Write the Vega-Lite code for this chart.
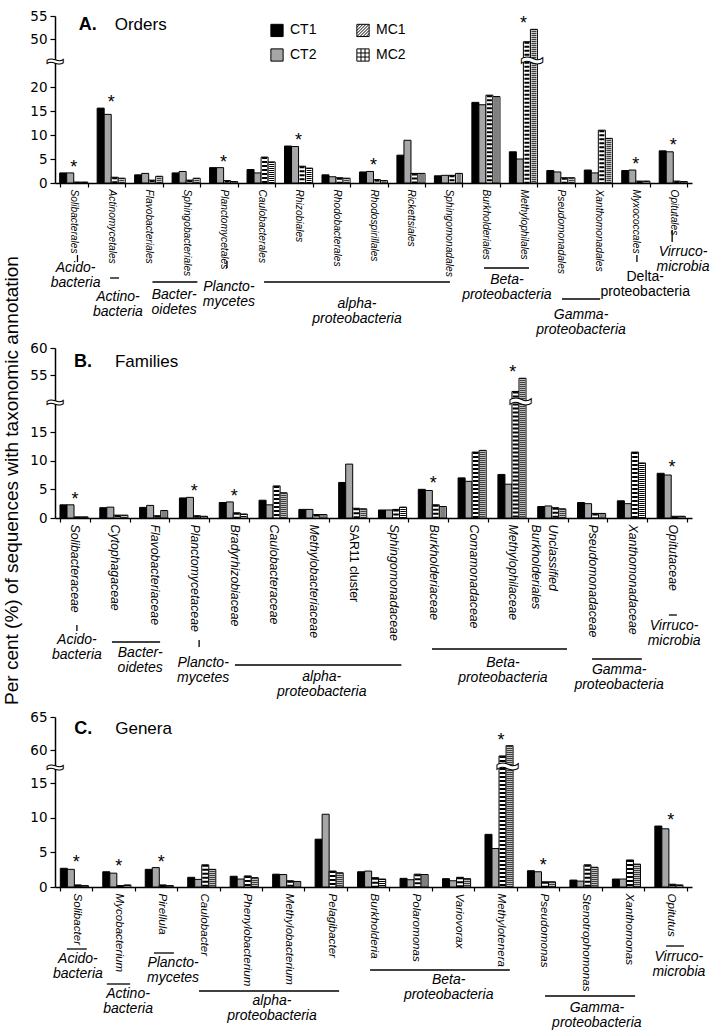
{
  "$schema": "https://vega.github.io/schema/vega-lite/v6.json",
  "padding": {"left": 1, "top": 9, "right": 2, "bottom": 2},
  "autosize": {"type": "pad"},
  "bounds": "flush",
  "spacing": 165,
  "resolve": {"scale": {"fill": "independent"}, "legend": {"fill": "independent"}},
  "config": {
    "view": {"stroke": null},
    "font": "Liberation Sans",
    "axis": {"domainColor": "#000", "tickColor": "#000", "labelColor": "#000", "titleColor": "#000", "domainWidth": 1.5, "tickWidth": 1.2, "grid": false},
    "axisY": {"labelOverlap": false, "labelFlush": false},
    "legend": {"labelColor": "#000"}
  },
  "datasets": {
    "A": [
      {"c": "Solibacterales", "CT1": 2.1, "CT2": 2.1, "MC1": 0.2, "MC2": 0.2, "star": true},
      {"c": "Actinomycetales", "CT1": 15.6, "CT2": 14.3, "MC1": 1.2, "MC2": 1.0, "star": true},
      {"c": "Flavobacteriales", "CT1": 1.7, "CT2": 2.0, "MC1": 0.6, "MC2": 1.4},
      {"c": "Sphingobacteriales", "CT1": 2.1, "CT2": 2.4, "MC1": 0.6, "MC2": 1.0},
      {"c": "Planctomycetales", "CT1": 3.2, "CT2": 3.2, "MC1": 0.5, "MC2": 0.3, "star": true},
      {"c": "Caulobacterales", "CT1": 2.8, "CT2": 2.1, "MC1": 5.4, "MC2": 4.4},
      {"c": "Rhizobiales", "CT1": 7.7, "CT2": 7.6, "MC1": 3.5, "MC2": 3.1, "star": true},
      {"c": "Rhodobacterales", "CT1": 1.7, "CT2": 1.3, "MC1": 1.1, "MC2": 1.0},
      {"c": "Rhodospirillales", "CT1": 2.3, "CT2": 2.4, "MC1": 0.7, "MC2": 0.5, "star": true},
      {"c": "Rickettsiales", "CT1": 5.8, "CT2": 8.9, "MC1": 2.0, "MC2": 2.0},
      {"c": "Sphingomonadales", "CT1": 1.5, "CT2": 1.6, "MC1": 1.6, "MC2": 2.0},
      {"c": "Burkholderiales", "CT1": 16.8, "CT2": 16.3, "MC1": 18.3, "MC2": 18.0},
      {"c": "Methylophilales", "CT1": 6.5, "CT2": 5.0, "MC1": 49.4, "MC2": 52.1, "star": true},
      {"c": "Pseudomonadales", "CT1": 2.6, "CT2": 2.3, "MC1": 1.1, "MC2": 1.1},
      {"c": "Xanthomonadales", "CT1": 2.7, "CT2": 2.1, "MC1": 11.0, "MC2": 9.3},
      {"c": "Myxococcales", "CT1": 2.6, "CT2": 2.7, "MC1": 0.4, "MC2": 0.4, "star": true},
      {"c": "Opitutales", "CT1": 6.7, "CT2": 6.5, "MC1": 0.4, "MC2": 0.3, "star": true}
    ],
    "B": [
      {"c": "Solibacteraceae", "CT1": 2.3, "CT2": 2.3, "MC1": 0.2, "MC2": 0.2, "star": true},
      {"c": "Cytophagaceae", "CT1": 1.8, "CT2": 1.9, "MC1": 0.5, "MC2": 0.5},
      {"c": "Flavobacteriaceae", "CT1": 1.85, "CT2": 2.2, "MC1": 0.4, "MC2": 1.3},
      {"c": "Planctomycetaceae", "CT1": 3.5, "CT2": 3.6, "MC1": 0.4, "MC2": 0.3, "star": true},
      {"c": "Bradyrhizobiaceae", "CT1": 2.7, "CT2": 2.8, "MC1": 0.9, "MC2": 0.7, "star": true},
      {"c": "Caulobacteraceae", "CT1": 3.1, "CT2": 2.3, "MC1": 5.6, "MC2": 4.4},
      {"c": "Methylobacteriaceae", "CT1": 1.5, "CT2": 1.5, "MC1": 0.6, "MC2": 0.6},
      {"c": "SAR11 cluster", "CT1": 6.2, "CT2": 9.4, "MC1": 1.7, "MC2": 1.6},
      {"c": "Sphingomonadaceae", "CT1": 1.4, "CT2": 1.4, "MC1": 1.5, "MC2": 1.9},
      {"c": "Burkholderiaceae", "CT1": 5.0, "CT2": 4.8, "MC1": 2.3, "MC2": 2.0, "star": true},
      {"c": "Comamonadaceae", "CT1": 7.0, "CT2": 6.4, "MC1": 11.5, "MC2": 11.8},
      {"c": "Methylophilaceae", "CT1": 7.6, "CT2": 5.9, "MC1": 51.7, "MC2": 54.4, "star": true},
      {"c": "Unclassified\nBurkholderiales", "CT1": 2.0, "CT2": 2.1, "MC1": 1.8, "MC2": 1.6},
      {"c": "Pseudomonadaceae", "CT1": 2.7, "CT2": 2.5, "MC1": 0.8, "MC2": 0.8},
      {"c": "Xanthomonadaceae", "CT1": 3.0, "CT2": 2.5, "MC1": 11.5, "MC2": 9.6},
      {"c": "Opitutaceae", "CT1": 7.8, "CT2": 7.5, "MC1": 0.3, "MC2": 0.3, "star": true}
    ],
    "C": [
      {"c": "Solibacter", "CT1": 2.7, "CT2": 2.55, "MC1": 0.3, "MC2": 0.2, "star": true},
      {"c": "Mycobacterium", "CT1": 2.2, "CT2": 2.0, "MC1": 0.2, "MC2": 0.3, "star": true},
      {"c": "Pirellula", "CT1": 2.55, "CT2": 2.8, "MC1": 0.3, "MC2": 0.2, "star": true},
      {"c": "Caulobacter", "CT1": 1.4, "CT2": 1.1, "MC1": 3.2, "MC2": 2.55},
      {"c": "Phenylobacterium", "CT1": 1.55, "CT2": 1.15, "MC1": 1.6, "MC2": 1.35},
      {"c": "Methylobacterium", "CT1": 1.85, "CT2": 1.8, "MC1": 0.9, "MC2": 0.8},
      {"c": "Pelagibacter", "CT1": 6.9, "CT2": 10.5, "MC1": 2.3, "MC2": 2.05},
      {"c": "Burkholderia", "CT1": 2.2, "CT2": 2.3, "MC1": 1.35, "MC2": 1.15},
      {"c": "Polaromonas", "CT1": 1.25, "CT2": 1.05, "MC1": 1.85, "MC2": 1.8},
      {"c": "Variovorax", "CT1": 1.2, "CT2": 0.9, "MC1": 1.4, "MC2": 1.2},
      {"c": "Methylotenera", "CT1": 7.6, "CT2": 5.55, "MC1": 59.1, "MC2": 60.65, "star": true},
      {"c": "Pseudomonas", "CT1": 2.35, "CT2": 2.2, "MC1": 0.75, "MC2": 0.75, "star": true},
      {"c": "Stenotrophomonas", "CT1": 1.0, "CT2": 0.85, "MC1": 3.2, "MC2": 2.85},
      {"c": "Xanthomonas", "CT1": 1.15, "CT2": 1.15, "MC1": 3.9, "MC2": 3.3},
      {"c": "Opitutus", "CT1": 8.8, "CT2": 8.4, "MC1": 0.4, "MC2": 0.3, "star": true}
    ],
    "hdA": [{"c": "Solibacterales", "n": "A.", "w": "Orders"}],
    "hdB": [{"c": "Solibacteraceae", "n": "B.", "w": "Families"}],
    "hdC": [{"c": "Solibacter", "n": "C.", "w": "Genera"}],
    "brA": [{"c": "Methylophilales", "s": "MC2"}],
    "brB": [{"c": "Methylophilaceae", "s": "MC2"}],
    "brC": [{"c": "Methylotenera", "s": "MC2"}],
    "annAl": [
      {"x1": 0.6, "x2": 0.6, "d1": 72, "d2": 79},
      {"x1": 1.47, "x2": 1.71, "d1": 95, "d2": 95},
      {"x1": 2.6, "x2": 3.8, "d1": 99, "d2": 99},
      {"x1": 4.59, "x2": 4.59, "d1": 78, "d2": 85},
      {"x1": 5.58, "x2": 10.54, "d1": 99, "d2": 99},
      {"x1": 11.45, "x2": 12.65, "d1": 85, "d2": 85},
      {"x1": 13.53, "x2": 14.55, "d1": 116, "d2": 116},
      {"x1": 15.53, "x2": 15.53, "d1": 72, "d2": 79},
      {"x1": 16.47, "x2": 16.47, "d1": 47, "d2": 59}
    ],
    "annAt": [
      {"x": 0.55, "d": 89, "t": "Acido-\nbacteria", "it": true},
      {"x": 1.68, "d": 118, "t": "Actino-\nbacteria", "it": true},
      {"x": 3.18, "d": 116, "t": "Bacter-\noidetes", "it": true},
      {"x": 4.64, "d": 108, "t": "Plancto-\nmycetes", "it": true},
      {"x": 8.06, "d": 125, "t": "alpha-\nproteobacteria", "it": true},
      {"x": 12.06, "d": 101, "t": "Beta-\nproteobacteria", "it": true},
      {"x": 14.04, "d": 136, "t": "Gamma-\nproteobacteria", "it": true},
      {"x": 15.75, "d": 98, "t": "Delta-\nproteobacteria", "it": false},
      {"x": 16.76, "d": 73, "t": "Virruco-\nmicrobia", "it": true}
    ],
    "annBl": [
      {"x1": 0.55, "x2": 0.55, "d1": 107, "d2": 113},
      {"x1": 1.43, "x2": 2.64, "d1": 124, "d2": 124},
      {"x1": 3.62, "x2": 3.62, "d1": 122, "d2": 129},
      {"x1": 4.52, "x2": 8.7, "d1": 147, "d2": 147},
      {"x1": 9.47, "x2": 12.86, "d1": 131, "d2": 131},
      {"x1": 13.49, "x2": 14.74, "d1": 141, "d2": 141},
      {"x1": 15.42, "x2": 15.62, "d1": 97, "d2": 97}
    ],
    "annBt": [
      {"x": 0.55, "d": 126, "t": "Acido-\nbacteria", "it": true},
      {"x": 2.14, "d": 139, "t": "Bacter-\noidetes", "it": true},
      {"x": 3.72, "d": 149, "t": "Plancto-\nmycetes", "it": true},
      {"x": 6.7, "d": 163, "t": "alpha-\nproteobacteria", "it": true},
      {"x": 11.25, "d": 149, "t": "Beta-\nproteobacteria", "it": true},
      {"x": 14.17, "d": 156, "t": "Gamma-\nproteobacteria", "it": true},
      {"x": 15.55, "d": 112, "t": "Virruco-\nmicrobia", "it": true}
    ],
    "annCl": [
      {"x1": 0.28, "x2": 0.75, "d1": 62, "d2": 62},
      {"x1": 1.22, "x2": 1.77, "d1": 97, "d2": 97},
      {"x1": 2.33, "x2": 2.8, "d1": 66, "d2": 66},
      {"x1": 3.39, "x2": 6.69, "d1": 104, "d2": 104},
      {"x1": 7.42, "x2": 10.71, "d1": 83, "d2": 83},
      {"x1": 11.54, "x2": 13.66, "d1": 109, "d2": 109},
      {"x1": 14.39, "x2": 14.81, "d1": 59, "d2": 59}
    ],
    "annCt": [
      {"x": 0.54, "d": 76, "t": "Acido-\nbacteria", "it": true},
      {"x": 1.72, "d": 111, "t": "Actino-\nbacteria", "it": true},
      {"x": 2.78, "d": 80, "t": "Plancto-\nmycetes", "it": true},
      {"x": 5.11, "d": 118, "t": "alpha-\nproteobacteria", "it": true},
      {"x": 9.27, "d": 97, "t": "Beta-\nproteobacteria", "it": true},
      {"x": 12.76, "d": 125, "t": "Gamma-\nproteobacteria", "it": true},
      {"x": 14.69, "d": 74, "t": "Virruco-\nmicrobia", "it": true}
    ]
  },
  "vconcat": [
    {
      "width": 637, "height": 167,
      "resolve": {"scale": {"x": "independent", "y": "independent"}, "axis": {"x": "independent", "y": "independent"}},
      "layer": [
        {
          "encoding": {
            "x": {"field": "c", "type": "nominal", "title": null,
              "scale": {"domain": ["Solibacterales","Actinomycetales","Flavobacteriales","Sphingobacteriales","Planctomycetales","Caulobacterales","Rhizobiales","Rhodobacterales","Rhodospirillales","Rickettsiales","Sphingomonadales","Burkholderiales","Methylophilales","Pseudomonadales","Xanthomonadales","Myxococcales","Opitutales"], "paddingInner": 0.25, "paddingOuter": 0.125},
              "axis": {"title": null, "labelAngle": 90, "labelFont": "Liberation Sans", "labelFontSize": 10.2, "labelFontStyle": "italic", "tickBand": "extent", "tickSize": 4, "labelPadding": 2, "labelOverlap": false}}
          },
          "layer": [
            {
              "data": {"name": "A"},
              "transform": [{"fold": ["CT1", "CT2", "MC1", "MC2"], "as": ["s", "v"]}],
              "mark": {"type": "bar", "stroke": "#000", "strokeWidth": 1},
              "encoding": {
                "y": {"field": "v", "type": "quantitative", "title": null,
                  "scale": {"domain": [0, 22, 48, 55], "range": [167, 61.4, 32.2, 0], "nice": false, "zero": false},
                  "axis": {"title": null, "values": [0, 5, 10, 15, 20, 50, 55], "tickSize": 5, "labelFont": "DejaVu Sans", "labelFontSize": 13.5, "labelPadding": 3, "labelOverlap": false, "labelFlush": false}},
                "xOffset": {"field": "s", "type": "nominal", "scale": {"domain": ["CT1", "CT2", "MC1", "MC2"], "paddingInner": 0, "paddingOuter": 0}},
                "fill": {"field": "s", "type": "nominal",
                  "scale": {"domain": ["CT1", "CT2", "MC1", "MC2"], "range": ["#000000", "#a6a6a6", "#ffffff", "#ffffff"]},
                  "legend": {"title": null, "orient": "none", "legendX": 215, "legendY": 7, "columns": 2, "columnPadding": 37, "rowPadding": 7,
                    "symbolType": "square", "symbolSize": 150, "symbolStrokeColor": "#000", "symbolStrokeWidth": 1,
                    "labelFont": "Liberation Sans", "labelFontSize": 14, "labelOffset": 6,
                    "encode": {"symbols": {"update": {"shape": {"signal": "datum.value === 'MC1' ? 'M-1,-1L1,-1L1,1L-1,1Z M-1,0L0,-1 M-1,1L1,-1 M0,1L1,0 M-1,-0.5L-0.5,-1 M-1,0.5L0.5,-1 M-0.5,1L1,-0.5 M0.5,1L1,0.5' : datum.value === 'MC2' ? 'M-1,-1L1,-1L1,1L-1,1Z M-1,-0.33L1,-0.33 M-1,0.33L1,0.33 M-0.33,-1L-0.33,1 M0.33,-1L0.33,1' : 'square'"}}}}}}
              }
            },
            {
              "data": {"name": "A"},
              "transform": [{"fold": ["CT1", "CT2", "MC1", "MC2"], "as": ["s", "v"]}, {"filter": "datum.s === 'MC1'"}],
              "mark": {"type": "rule", "stroke": "#000", "strokeWidth": 5, "strokeDash": [2, 2]},
              "encoding": {"y": {"field": "v", "type": "quantitative", "title": null, "axis": {"title": null, "values": [0, 5, 10, 15, 20, 50, 55], "tickSize": 5, "labelFont": "DejaVu Sans", "labelFontSize": 13.5, "labelPadding": 3, "labelOverlap": false, "labelFlush": false}}, "xOffset": {"field": "s", "type": "nominal"}, "y2": {"datum": 0}}
            },
            {
              "data": {"name": "A"},
              "transform": [{"fold": ["CT1", "CT2", "MC1", "MC2"], "as": ["s", "v"]}, {"filter": "datum.s === 'MC2'"}],
              "mark": {"type": "rule", "stroke": "#000", "strokeWidth": 5, "strokeDash": [1, 1]},
              "encoding": {"y": {"field": "v", "type": "quantitative", "title": null, "axis": {"title": null, "values": [0, 5, 10, 15, 20, 50, 55], "tickSize": 5, "labelFont": "DejaVu Sans", "labelFontSize": 13.5, "labelPadding": 3, "labelOverlap": false, "labelFlush": false}}, "xOffset": {"field": "s", "type": "nominal"}, "y2": {"datum": 0}}
            },
            {
              "data": {"name": "A"},
              "transform": [{"fold": ["CT1", "CT2", "MC1", "MC2"], "as": ["s", "v"]}, {"filter": "datum.star"}],
              "mark": {"type": "text", "text": "*", "fontSize": 18, "baseline": "alphabetic"},
              "encoding": {"y": {"aggregate": "max", "field": "v", "type": "quantitative", "title": null, "axis": {"title": null, "values": [0, 5, 10, 15, 20, 50, 55], "tickSize": 5, "labelFont": "DejaVu Sans", "labelFontSize": 13.5, "labelPadding": 3, "labelOverlap": false, "labelFlush": false}}}
            },
            {
              "data": {"name": "brA"},
              "mark": {"type": "text", "text": "~", "fontSize": 42, "fontWeight": "bold", "fill": "#fff", "stroke": "#000", "strokeWidth": 1, "baseline": "middle", "dx": -2},
              "encoding": {"xOffset": {"field": "s", "type": "nominal"}, "y": {"datum": 36, "title": null, "axis": {"title": null, "values": [0, 5, 10, 15, 20, 50, 55], "tickSize": 5, "labelFont": "DejaVu Sans", "labelFontSize": 13.5, "labelPadding": 3, "labelOverlap": false, "labelFlush": false}}}
            },
            {
              "data": {"name": "hdA"},
              "mark": {"type": "text", "text": "~", "fontSize": 32, "fontWeight": "bold", "fill": "#fff", "stroke": "#000", "strokeWidth": 1, "baseline": "middle", "dx": -18.74},
              "encoding": {"y": {"datum": 36, "title": null, "axis": {"title": null, "values": [0, 5, 10, 15, 20, 50, 55], "tickSize": 5, "labelFont": "DejaVu Sans", "labelFontSize": 13.5, "labelPadding": 3, "labelOverlap": false, "labelFlush": false}}}
            },
            {
              "data": {"name": "hdA"},
              "mark": {"type": "text", "fontSize": 18, "fontWeight": "bold", "align": "left", "baseline": "middle", "dx": 5},
              "encoding": {"y": {"datum": 53, "title": null, "axis": {"title": null, "values": [0, 5, 10, 15, 20, 50, 55], "tickSize": 5, "labelFont": "DejaVu Sans", "labelFontSize": 13.5, "labelPadding": 3, "labelOverlap": false, "labelFlush": false}}, "text": {"field": "n"}}
            },
            {
              "data": {"name": "hdA"},
              "mark": {"type": "text", "fontSize": 17, "align": "left", "baseline": "middle", "dx": 41},
              "encoding": {"y": {"datum": 53, "title": null, "axis": {"title": null, "values": [0, 5, 10, 15, 20, 50, 55], "tickSize": 5, "labelFont": "DejaVu Sans", "labelFontSize": 13.5, "labelPadding": 3, "labelOverlap": false, "labelFlush": false}}, "text": {"field": "w"}}
            }
          ]
        },
        {
          "encoding": {
            "x": {"field": "x1", "type": "quantitative", "scale": {"domain": [0, 17], "nice": false, "zero": false}, "axis": null},
            "y": {"field": "d1", "type": "quantitative", "scale": {"domain": [0, 200], "range": [167, 367], "nice": false, "zero": false}, "axis": null}
          },
          "layer": [
            {
              "data": {"name": "annAl"},
              "mark": {"type": "rule", "stroke": "#000", "strokeWidth": 1.3},
              "encoding": {"x2": {"field": "x2"}, "y2": {"field": "d2"}}
            },
            {
              "data": {"name": "annAt"},
              "transform": [{"filter": "datum.it"}],
              "mark": {"type": "text", "fontSize": 14, "fontStyle": "italic", "align": "center", "baseline": "alphabetic", "lineBreak": "\n", "lineHeight": 15},
              "encoding": {"x": {"field": "x", "type": "quantitative"}, "y": {"field": "d", "type": "quantitative"}, "text": {"field": "t"}}
            },
            {
              "data": {"name": "annAt"},
              "transform": [{"filter": "!datum.it"}],
              "mark": {"type": "text", "fontSize": 14, "align": "center", "baseline": "alphabetic", "lineBreak": "\n", "lineHeight": 15},
              "encoding": {"x": {"field": "x", "type": "quantitative"}, "y": {"field": "d", "type": "quantitative"}, "text": {"field": "t"}}
            }
          ]
        }
      ]
    },
    {
      "width": 637, "height": 170,
      "resolve": {"scale": {"x": "independent", "y": "independent"}, "axis": {"x": "independent", "y": "independent"}},
      "layer": [
        {
          "encoding": {
            "x": {"field": "c", "type": "nominal", "title": null,
              "scale": {"domain": ["Solibacteraceae","Cytophagaceae","Flavobacteriaceae","Planctomycetaceae","Bradyrhizobiaceae","Caulobacteraceae","Methylobacteriaceae","SAR11 cluster","Sphingomonadaceae","Burkholderiaceae","Comamonadaceae","Methylophilaceae","Unclassified\nBurkholderiales","Pseudomonadaceae","Xanthomonadaceae","Opitutaceae"], "paddingInner": 0.25, "paddingOuter": 0.125},
              "axis": {"title": null, "labelAngle": 90, "labelFont": "Liberation Sans", "labelFontSize": 12.3, "labelFontStyle": {"condition": {"test": "datum.value === 'SAR11 cluster'", "value": "normal"}, "value": "italic"}, "labelExpr": "split(datum.label, '\\n')", "labelLineHeight": 17, "tickBand": "extent", "tickSize": 4, "labelPadding": 2, "labelOverlap": false}}
          },
          "layer": [
            {
              "data": {"name": "B"},
              "transform": [{"fold": ["CT1", "CT2", "MC1", "MC2"], "as": ["s", "v"]}],
              "mark": {"type": "bar", "stroke": "#000", "strokeWidth": 1},
              "encoding": {
                "y": {"field": "v", "type": "quantitative", "title": "Per cent (%) of sequences with taxonomic annotation",
                  "scale": {"domain": [0, 17.5, 52, 60], "range": [170, 69.7, 43.2, 0], "nice": false, "zero": false},
                  "axis": {"title": "Per cent (%) of sequences with taxonomic annotation", "titleFont": "Liberation Sans", "titleFontSize": 19, "titleFontWeight": "normal", "titleAngle": 270, "titleAlign": "center", "titleBaseline": "alphabetic", "titleX": -38, "titleY": 132, "values": [0, 5, 10, 15, 55, 60], "tickSize": 5, "labelFont": "DejaVu Sans", "labelFontSize": 13.5, "labelPadding": 3, "labelOverlap": false, "labelFlush": false}},
                "xOffset": {"field": "s", "type": "nominal", "scale": {"domain": ["CT1", "CT2", "MC1", "MC2"], "paddingInner": 0, "paddingOuter": 0}},
                "fill": {"field": "s", "type": "nominal", "scale": {"domain": ["CT1", "CT2", "MC1", "MC2"], "range": ["#000000", "#a6a6a6", "#ffffff", "#ffffff"]}, "legend": null}
              }
            },
            {
              "data": {"name": "B"},
              "transform": [{"fold": ["CT1", "CT2", "MC1", "MC2"], "as": ["s", "v"]}, {"filter": "datum.s === 'MC1'"}],
              "mark": {"type": "rule", "stroke": "#000", "strokeWidth": 5.5, "strokeDash": [2, 2]},
              "encoding": {"y": {"field": "v", "type": "quantitative", "title": "Per cent (%) of sequences with taxonomic annotation", "axis": {"title": "Per cent (%) of sequences with taxonomic annotation", "titleFont": "Liberation Sans", "titleFontSize": 19, "titleFontWeight": "normal", "titleAngle": 270, "titleAlign": "center", "titleBaseline": "alphabetic", "titleX": -38, "titleY": 132, "values": [0, 5, 10, 15, 55, 60], "tickSize": 5, "labelFont": "DejaVu Sans", "labelFontSize": 13.5, "labelPadding": 3, "labelOverlap": false, "labelFlush": false}}, "xOffset": {"field": "s", "type": "nominal"}, "y2": {"datum": 0}}
            },
            {
              "data": {"name": "B"},
              "transform": [{"fold": ["CT1", "CT2", "MC1", "MC2"], "as": ["s", "v"]}, {"filter": "datum.s === 'MC2'"}],
              "mark": {"type": "rule", "stroke": "#000", "strokeWidth": 5.5, "strokeDash": [1, 1]},
              "encoding": {"y": {"field": "v", "type": "quantitative", "title": "Per cent (%) of sequences with taxonomic annotation", "axis": {"title": "Per cent (%) of sequences with taxonomic annotation", "titleFont": "Liberation Sans", "titleFontSize": 19, "titleFontWeight": "normal", "titleAngle": 270, "titleAlign": "center", "titleBaseline": "alphabetic", "titleX": -38, "titleY": 132, "values": [0, 5, 10, 15, 55, 60], "tickSize": 5, "labelFont": "DejaVu Sans", "labelFontSize": 13.5, "labelPadding": 3, "labelOverlap": false, "labelFlush": false}}, "xOffset": {"field": "s", "type": "nominal"}, "y2": {"datum": 0}}
            },
            {
              "data": {"name": "B"},
              "transform": [{"fold": ["CT1", "CT2", "MC1", "MC2"], "as": ["s", "v"]}, {"filter": "datum.star"}],
              "mark": {"type": "text", "text": "*", "fontSize": 18, "baseline": "alphabetic"},
              "encoding": {"y": {"aggregate": "max", "field": "v", "type": "quantitative", "title": "Per cent (%) of sequences with taxonomic annotation", "axis": {"title": "Per cent (%) of sequences with taxonomic annotation", "titleFont": "Liberation Sans", "titleFontSize": 19, "titleFontWeight": "normal", "titleAngle": 270, "titleAlign": "center", "titleBaseline": "alphabetic", "titleX": -38, "titleY": 132, "values": [0, 5, 10, 15, 55, 60], "tickSize": 5, "labelFont": "DejaVu Sans", "labelFontSize": 13.5, "labelPadding": 3, "labelOverlap": false, "labelFlush": false}}}
            },
            {
              "data": {"name": "brB"},
              "mark": {"type": "text", "text": "~", "fontSize": 42, "fontWeight": "bold", "fill": "#fff", "stroke": "#000", "strokeWidth": 1, "baseline": "middle", "dx": -2},
              "encoding": {"xOffset": {"field": "s", "type": "nominal"}, "y": {"datum": 36.5, "title": "Per cent (%) of sequences with taxonomic annotation", "axis": {"title": "Per cent (%) of sequences with taxonomic annotation", "titleFont": "Liberation Sans", "titleFontSize": 19, "titleFontWeight": "normal", "titleAngle": 270, "titleAlign": "center", "titleBaseline": "alphabetic", "titleX": -38, "titleY": 132, "values": [0, 5, 10, 15, 55, 60], "tickSize": 5, "labelFont": "DejaVu Sans", "labelFontSize": 13.5, "labelPadding": 3, "labelOverlap": false, "labelFlush": false}}}
            },
            {
              "data": {"name": "hdB"},
              "mark": {"type": "text", "text": "~", "fontSize": 32, "fontWeight": "bold", "fill": "#fff", "stroke": "#000", "strokeWidth": 1, "baseline": "middle", "dx": -19.9},
              "encoding": {"y": {"datum": 36.5, "title": "Per cent (%) of sequences with taxonomic annotation", "axis": {"title": "Per cent (%) of sequences with taxonomic annotation", "titleFont": "Liberation Sans", "titleFontSize": 19, "titleFontWeight": "normal", "titleAngle": 270, "titleAlign": "center", "titleBaseline": "alphabetic", "titleX": -38, "titleY": 132, "values": [0, 5, 10, 15, 55, 60], "tickSize": 5, "labelFont": "DejaVu Sans", "labelFontSize": 13.5, "labelPadding": 3, "labelOverlap": false, "labelFlush": false}}}
            },
            {
              "data": {"name": "hdB"},
              "mark": {"type": "text", "fontSize": 18, "fontWeight": "bold", "align": "left", "baseline": "middle", "dx": -1},
              "encoding": {"y": {"datum": 57.4, "title": "Per cent (%) of sequences with taxonomic annotation", "axis": {"title": "Per cent (%) of sequences with taxonomic annotation", "titleFont": "Liberation Sans", "titleFontSize": 19, "titleFontWeight": "normal", "titleAngle": 270, "titleAlign": "center", "titleBaseline": "alphabetic", "titleX": -38, "titleY": 132, "values": [0, 5, 10, 15, 55, 60], "tickSize": 5, "labelFont": "DejaVu Sans", "labelFontSize": 13.5, "labelPadding": 3, "labelOverlap": false, "labelFlush": false}}, "text": {"field": "n"}}
            },
            {
              "data": {"name": "hdB"},
              "mark": {"type": "text", "fontSize": 17, "align": "left", "baseline": "middle", "dx": 40},
              "encoding": {"y": {"datum": 57.4, "title": "Per cent (%) of sequences with taxonomic annotation", "axis": {"title": "Per cent (%) of sequences with taxonomic annotation", "titleFont": "Liberation Sans", "titleFontSize": 19, "titleFontWeight": "normal", "titleAngle": 270, "titleAlign": "center", "titleBaseline": "alphabetic", "titleX": -38, "titleY": 132, "values": [0, 5, 10, 15, 55, 60], "tickSize": 5, "labelFont": "DejaVu Sans", "labelFontSize": 13.5, "labelPadding": 3, "labelOverlap": false, "labelFlush": false}}, "text": {"field": "w"}}
            }
          ]
        },
        {
          "encoding": {
            "x": {"field": "x1", "type": "quantitative", "scale": {"domain": [0, 16], "nice": false, "zero": false}, "axis": null},
            "y": {"field": "d1", "type": "quantitative", "scale": {"domain": [0, 200], "range": [170, 370], "nice": false, "zero": false}, "axis": null}
          },
          "layer": [
            {
              "data": {"name": "annBl"},
              "mark": {"type": "rule", "stroke": "#000", "strokeWidth": 1.3},
              "encoding": {"x2": {"field": "x2"}, "y2": {"field": "d2"}}
            },
            {
              "data": {"name": "annBt"},
              "mark": {"type": "text", "fontSize": 14, "fontStyle": "italic", "align": "center", "baseline": "alphabetic", "lineBreak": "\n", "lineHeight": 15},
              "encoding": {"x": {"field": "x", "type": "quantitative"}, "y": {"field": "d", "type": "quantitative"}, "text": {"field": "t"}}
            }
          ]
        }
      ]
    },
    {
      "width": 637, "height": 204,
      "resolve": {"scale": {"x": "independent", "y": "independent"}, "axis": {"x": "independent", "y": "independent"}},
      "layer": [
        {
          "encoding": {
            "x": {"field": "c", "type": "nominal", "title": null,
              "scale": {"domain": ["Solibacter","Mycobacterium","Pirellula","Caulobacter","Phenylobacterium","Methylobacterium","Pelagibacter","Burkholderia","Polaromonas","Variovorax","Methylotenera","Pseudomonas","Stenotrophomonas","Xanthomonas","Opitutus"], "paddingInner": 0.25, "paddingOuter": 0.125},
              "axis": {"title": null, "labelAngle": 90, "labelFont": "Liberation Sans", "labelFontSize": 11.6, "labelFontStyle": "italic", "tickBand": "extent", "tickSize": 4, "labelPadding": 2, "labelOverlap": false}}
          },
          "layer": [
            {
              "data": {"name": "C"},
              "transform": [{"fold": ["CT1", "CT2", "MC1", "MC2"], "as": ["s", "v"]}],
              "mark": {"type": "bar", "stroke": "#000", "strokeWidth": 1},
              "encoding": {
                "y": {"field": "v", "type": "quantitative", "title": null,
                  "scale": {"domain": [0, 16.5, 58, 65], "range": [204, 89.7, 80.2, 34], "nice": false, "zero": false},
                  "axis": {"title": null, "values": [0, 5, 10, 15, 60, 65], "tickSize": 5, "labelFont": "DejaVu Sans", "labelFontSize": 13.5, "labelPadding": 3, "labelOverlap": false, "labelFlush": false}},
                "xOffset": {"field": "s", "type": "nominal", "scale": {"domain": ["CT1", "CT2", "MC1", "MC2"], "paddingInner": 0, "paddingOuter": 0}},
                "fill": {"field": "s", "type": "nominal", "scale": {"domain": ["CT1", "CT2", "MC1", "MC2"], "range": ["#000000", "#a6a6a6", "#ffffff", "#ffffff"]}, "legend": null}
              }
            },
            {
              "data": {"name": "C"},
              "transform": [{"fold": ["CT1", "CT2", "MC1", "MC2"], "as": ["s", "v"]}, {"filter": "datum.s === 'MC1'"}],
              "mark": {"type": "rule", "stroke": "#000", "strokeWidth": 6, "strokeDash": [2, 2]},
              "encoding": {"y": {"field": "v", "type": "quantitative", "title": null, "axis": {"title": null, "values": [0, 5, 10, 15, 60, 65], "tickSize": 5, "labelFont": "DejaVu Sans", "labelFontSize": 13.5, "labelPadding": 3, "labelOverlap": false, "labelFlush": false}}, "xOffset": {"field": "s", "type": "nominal"}, "y2": {"datum": 0}}
            },
            {
              "data": {"name": "C"},
              "transform": [{"fold": ["CT1", "CT2", "MC1", "MC2"], "as": ["s", "v"]}, {"filter": "datum.s === 'MC2'"}],
              "mark": {"type": "rule", "stroke": "#000", "strokeWidth": 6, "strokeDash": [1, 1]},
              "encoding": {"y": {"field": "v", "type": "quantitative", "title": null, "axis": {"title": null, "values": [0, 5, 10, 15, 60, 65], "tickSize": 5, "labelFont": "DejaVu Sans", "labelFontSize": 13.5, "labelPadding": 3, "labelOverlap": false, "labelFlush": false}}, "xOffset": {"field": "s", "type": "nominal"}, "y2": {"datum": 0}}
            },
            {
              "data": {"name": "C"},
              "transform": [{"fold": ["CT1", "CT2", "MC1", "MC2"], "as": ["s", "v"]}, {"filter": "datum.star"}],
              "mark": {"type": "text", "text": "*", "fontSize": 18, "baseline": "alphabetic"},
              "encoding": {"y": {"aggregate": "max", "field": "v", "type": "quantitative", "title": null, "axis": {"title": null, "values": [0, 5, 10, 15, 60, 65], "tickSize": 5, "labelFont": "DejaVu Sans", "labelFontSize": 13.5, "labelPadding": 3, "labelOverlap": false, "labelFlush": false}}}
            },
            {
              "data": {"name": "brC"},
              "mark": {"type": "text", "text": "~", "fontSize": 42, "fontWeight": "bold", "fill": "#fff", "stroke": "#000", "strokeWidth": 1, "baseline": "middle", "dx": -2},
              "encoding": {"xOffset": {"field": "s", "type": "nominal"}, "y": {"datum": 39, "title": null, "axis": {"title": null, "values": [0, 5, 10, 15, 60, 65], "tickSize": 5, "labelFont": "DejaVu Sans", "labelFontSize": 13.5, "labelPadding": 3, "labelOverlap": false, "labelFlush": false}}}
            },
            {
              "data": {"name": "hdC"},
              "mark": {"type": "text", "text": "~", "fontSize": 32, "fontWeight": "bold", "fill": "#fff", "stroke": "#000", "strokeWidth": 1, "baseline": "middle", "dx": -21.24},
              "encoding": {"y": {"datum": 39, "title": null, "axis": {"title": null, "values": [0, 5, 10, 15, 60, 65], "tickSize": 5, "labelFont": "DejaVu Sans", "labelFontSize": 13.5, "labelPadding": 3, "labelOverlap": false, "labelFlush": false}}}
            },
            {
              "data": {"name": "hdC"},
              "mark": {"type": "text", "fontSize": 18, "fontWeight": "bold", "align": "left", "baseline": "middle", "dx": -2},
              "encoding": {"y": {"datum": 63.2, "title": null, "axis": {"title": null, "values": [0, 5, 10, 15, 60, 65], "tickSize": 5, "labelFont": "DejaVu Sans", "labelFontSize": 13.5, "labelPadding": 3, "labelOverlap": false, "labelFlush": false}}, "text": {"field": "n"}}
            },
            {
              "data": {"name": "hdC"},
              "mark": {"type": "text", "fontSize": 17, "align": "left", "baseline": "middle", "dx": 39},
              "encoding": {"y": {"datum": 63.2, "title": null, "axis": {"title": null, "values": [0, 5, 10, 15, 60, 65], "tickSize": 5, "labelFont": "DejaVu Sans", "labelFontSize": 13.5, "labelPadding": 3, "labelOverlap": false, "labelFlush": false}}, "text": {"field": "w"}}
            }
          ]
        },
        {
          "encoding": {
            "x": {"field": "x1", "type": "quantitative", "scale": {"domain": [0, 15], "nice": false, "zero": false}, "axis": null},
            "y": {"field": "d1", "type": "quantitative", "scale": {"domain": [0, 200], "range": [204, 404], "nice": false, "zero": false}, "axis": null}
          },
          "layer": [
            {
              "data": {"name": "annCl"},
              "mark": {"type": "rule", "stroke": "#000", "strokeWidth": 1.3},
              "encoding": {"x2": {"field": "x2"}, "y2": {"field": "d2"}}
            },
            {
              "data": {"name": "annCt"},
              "mark": {"type": "text", "fontSize": 14, "fontStyle": "italic", "align": "center", "baseline": "alphabetic", "lineBreak": "\n", "lineHeight": 15},
              "encoding": {"x": {"field": "x", "type": "quantitative"}, "y": {"field": "d", "type": "quantitative"}, "text": {"field": "t"}}
            }
          ]
        }
      ]
    }
  ]
}
